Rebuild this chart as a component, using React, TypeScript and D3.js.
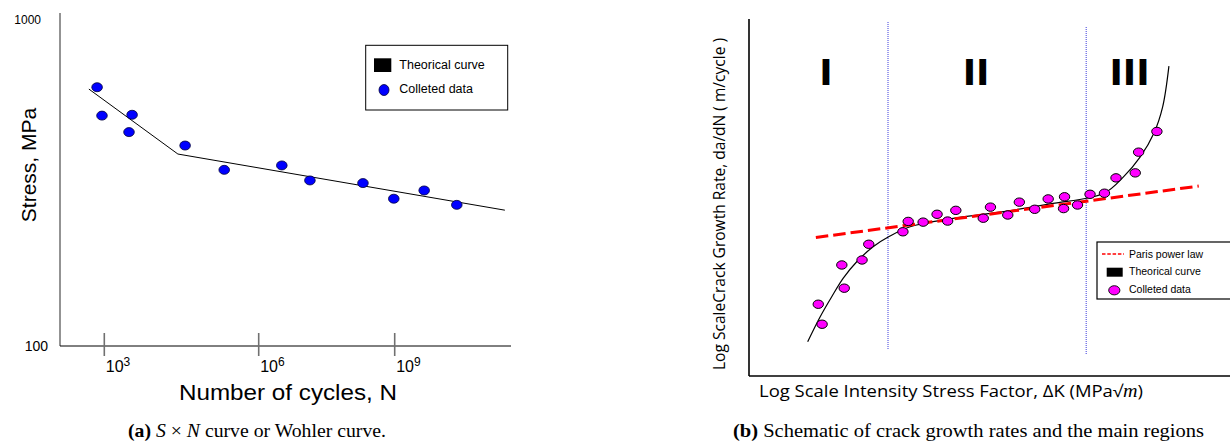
import React from 'react';
import * as d3 from 'd3';

const W = 1230;
const H = 445;

// ---------- (a) S-N / Wohler curve ----------
const snCyclesLog10 = [2.86, 2.955, 3.54, 3.48, 4.57, 5.33, 6.51, 7.13, 8.3, 8.98, 9.65, 10.37];
const snStress = [622, 509, 512, 453, 412, 347, 358, 322, 316, 283, 300, 271];
const snCurveCyclesLog10 = [2.7, 4.43, 11.43];
const snCurveStress = [614, 388, 261];
const snTickExponents = [3, 6, 9];
const snStressTicks = [100, 1000];

// ---------- (b) crack growth rate ----------
const dkLog = [1.44, 1.52, 1.93, 1.98, 2.35, 2.49, 3.2, 3.31, 3.62, 3.91, 4.13, 4.3, 4.87, 5.02, 5.38, 5.62, 5.94, 6.22, 6.56, 6.54, 6.83, 7.09, 7.39, 7.63, 8.03, 8.1, 8.48];
const dadnLog = [2.01, 1.45, 3.11, 2.46, 3.25, 3.69, 4.04, 4.33, 4.31, 4.53, 4.34, 4.64, 4.42, 4.73, 4.51, 4.87, 4.67, 4.96, 5.02, 4.69, 4.79, 5.09, 5.12, 5.55, 5.69, 6.27, 6.85];
const curveDkLog = [1.22, 1.48, 1.72, 1.96, 2.24, 2.58, 2.93, 3.35, 4.18, 5.22, 6.26, 7.38, 7.78, 8.13, 8.42, 8.6, 8.73];
const curveDadnLog = [0.96, 1.66, 2.22, 2.74, 3.2, 3.62, 3.92, 4.18, 4.4, 4.59, 4.82, 5.12, 5.57, 6.13, 6.81, 7.54, 8.68];
const parisDkLog = [1.39, 9.35];
const parisDadnLog = [3.88, 5.32];
const regionBounds = [2.89, 7.01];
const regionLabels = ['I', 'II', 'III'];
const regionLabelDk = [1.6, 4.72, 7.91];

const SANS = 'Liberation Sans, Arial, Helvetica, sans-serif';
const SERIF = 'Liberation Serif, Times New Roman, serif';
const OPEN = 'Open Sans, DejaVu Sans, sans-serif';

export default function App() {
  // left scales
  const lx = d3.scaleLog().domain([1e3, 1e6, 1e9]).range([104.3, 258.7, 394.7]);
  const ly = d3.scaleLog().domain([100, 1000]).range([346, 20]);
  const L = { left: 60, right: 511, top: 13, bottom: 346 };

  const snPts = snCyclesLog10.map((e, i) => ({ x: lx(Math.pow(10, e)), y: ly(snStress[i]) }));
  const snLine = d3
    .line<number>()
    .x((e) => lx(Math.pow(10, e)))
    .y((_, i) => ly(snCurveStress[i]))(snCurveCyclesLog10);

  // right scales
  const rx = d3.scaleLinear().domain([0, 10]).range([749, 1230]);
  const ry = d3.scaleLinear().domain([0, 10]).range([376, 19]);
  const R = { left: 749, right: 1235, top: 19, bottom: 376 };

  const crackPts = dkLog.map((v, i) => ({ x: rx(v), y: ry(dadnLog[i]) }));
  const theo = d3
    .line<number>()
    .curve(d3.curveCatmullRom.alpha(0.5))
    .x((v) => rx(v))
    .y((_, i) => ry(curveDadnLog[i]))(curveDkLog);
  const paris = d3
    .line<number>()
    .x((v) => rx(v))
    .y((_, i) => ry(parisDadnLog[i]))(parisDkLog);
  const dividerTops = [22, 27];
  const dividerBottoms = [349, 354];

  return (
    <svg
      width={W}
      height={H}
      style={{ position: 'absolute', left: 0, top: 0, background: '#fff' }}
      xmlns="http://www.w3.org/2000/svg"
    >
      <rect x={0} y={0} width={W} height={H} fill="#fff" />

      {/* ================= LEFT ================= */}
      <line x1={L.left} x2={L.left} y1={L.top} y2={L.bottom} stroke="#808080" strokeWidth={1.7} />
      <line x1={L.left} x2={L.right} y1={L.bottom} y2={L.bottom} stroke="#000" strokeWidth={1} />
      {snTickExponents.map((e) => (
        <g key={e}>
          <line x1={lx(Math.pow(10, e))} x2={lx(Math.pow(10, e))} y1={333} y2={356} stroke="#707070" strokeWidth={1.6} />
          <text x={lx(Math.pow(10, e)) + 1.5} y={372} fontFamily={SANS} fontSize={16} fill="#000">
            10
            <tspan dy={-6} fontSize={12}>
              {e}
            </tspan>
          </text>
        </g>
      ))}
      {snStressTicks.map((t) =>
        t === 1000 ? (
          <text key={t} x={41} y={24} textAnchor="end" fontFamily={SANS} fontSize={12}>
            {t}
          </text>
        ) : (
          <text key={t} x={48} y={ly(t) + 5} textAnchor="end" fontFamily={SANS} fontSize={14}>
            {t}
          </text>
        )
      )}
      <text
        transform="translate(36,165) rotate(-90)"
        textAnchor="middle"
        fontFamily={SANS}
        fontSize={21}
        fill="#000"
      >
        Stress, MPa
      </text>
      <text x={179} y={400} fontFamily={SANS} fontSize={22} textLength={218} lengthAdjust="spacingAndGlyphs" fill="#000">
        Number of cycles, N
      </text>

      <path d={snLine || ''} fill="none" stroke="#000" strokeWidth={1} />
      {snPts.map((p, i) => (
        <ellipse key={i} cx={p.x} cy={p.y} rx={5.3} ry={4.5} fill="#0000ff" stroke="#00003a" strokeWidth={0.8} />
      ))}

      {/* left legend */}
      <rect x={365.7} y={45.3} width={142} height={64.7} fill="#fff" stroke="#000" strokeWidth={1} />
      <rect x={374} y={58.3} width={17.3} height={13.7} fill="#000" />
      <text x={399.3} y={69} fontFamily={SANS} fontSize={12.5}>
        Theorical curve
      </text>
      <ellipse cx={384} cy={90} rx={5} ry={5.5} fill="#0000ff" stroke="#00003a" strokeWidth={0.8} />
      <text x={399.3} y={93.3} fontFamily={SANS} fontSize={12.5}>
        Colleted data
      </text>

      {/* caption a */}
      <text x={128} y={437} fontFamily={SERIF} fontSize={19.5} textLength={258} lengthAdjust="spacingAndGlyphs" fill="#000">
        <tspan fontWeight="bold">(a)</tspan>
        <tspan> </tspan>
        <tspan fontStyle="italic">S</tspan>
        <tspan> × </tspan>
        <tspan fontStyle="italic">N</tspan>
        <tspan> curve or Wohler curve.</tspan>
      </text>

      {/* ================= RIGHT ================= */}
      <line x1={R.left} x2={R.left} y1={R.top} y2={R.bottom} stroke="#000" strokeWidth={1.6} />
      <line x1={R.left} x2={R.right} y1={R.bottom} y2={R.bottom} stroke="#000" strokeWidth={1.6} />

      {regionBounds.map((b, i) => (
        <line
          key={b}
          x1={rx(b)}
          x2={rx(b)}
          y1={dividerTops[i]}
          y2={dividerBottoms[i]}
          stroke="#3c3cdc"
          strokeWidth={1}
          strokeDasharray="1 1"
        />
      ))}

      {regionLabels.map((lab, i) => (
        <text
          key={lab}
          x={rx(regionLabelDk[i])}
          y={85}
          textAnchor="middle"
          fontFamily="DejaVu Sans, sans-serif"
          fontWeight="bold"
          fontSize={36}
          fill="#000"
        >
          {lab}
        </text>
      ))}

      <path d={theo || ''} fill="none" stroke="#000" strokeWidth={1.2} />
      <path d={paris || ''} fill="none" stroke="#ff0000" strokeWidth={3} strokeDasharray="12.5 5" />
      {crackPts.map((p, i) => (
        <ellipse key={i} cx={p.x} cy={p.y} rx={5.2} ry={4.2} fill="#ff00ff" stroke="#000" strokeWidth={1} />
      ))}

      {/* right legend */}
      <rect x={1097} y={242} width={140} height={57} fill="#fff" stroke="#000" strokeWidth={1.2} />
      <line x1={1102} x2={1124} y1={254} y2={254} stroke="#ff0000" strokeWidth={1.6} strokeDasharray="3.5 1.8" />
      <text x={1129} y={257.5} fontFamily={SANS} fontSize={10.5}>
        Paris power law
      </text>
      <rect x={1106.7} y={267.7} width={16} height={9} fill="#000" />
      <text x={1129} y={275.3} fontFamily={SANS} fontSize={10.5}>
        Theorical curve
      </text>
      <ellipse cx={1114.3} cy={290.3} rx={5.6} ry={4.6} fill="#ff00ff" stroke="#000" strokeWidth={0.9} />
      <text x={1129} y={293} fontFamily={SANS} fontSize={10.5}>
        Colleted data
      </text>

      <text
        transform="translate(725,204) rotate(-90)"
        textAnchor="middle"
        fontFamily={OPEN}
        fontSize={16}
        textLength={332}
        lengthAdjust="spacingAndGlyphs"
        fill="#000"
      >
        Log ScaleCrack Growth Rate, da/dN ( m/cycle )
      </text>
      <text x={759} y={397} fontFamily={OPEN} fontSize={16.5} textLength={384} lengthAdjust="spacingAndGlyphs" fill="#000">
        Log Scale Intensity Stress Factor, ΔK (MPa√
        <tspan fontFamily={SERIF} fontStyle="italic" fontSize={18}>
          m
        </tspan>
        )
      </text>

      {/* caption b */}
      <text x={733} y={437} fontFamily={SERIF} fontSize={19.5} textLength={471} lengthAdjust="spacingAndGlyphs" fill="#000">
        <tspan fontWeight="bold">(b)</tspan>
        <tspan> Schematic of crack growth rates and the main regions</tspan>
      </text>
    </svg>
  );
}
